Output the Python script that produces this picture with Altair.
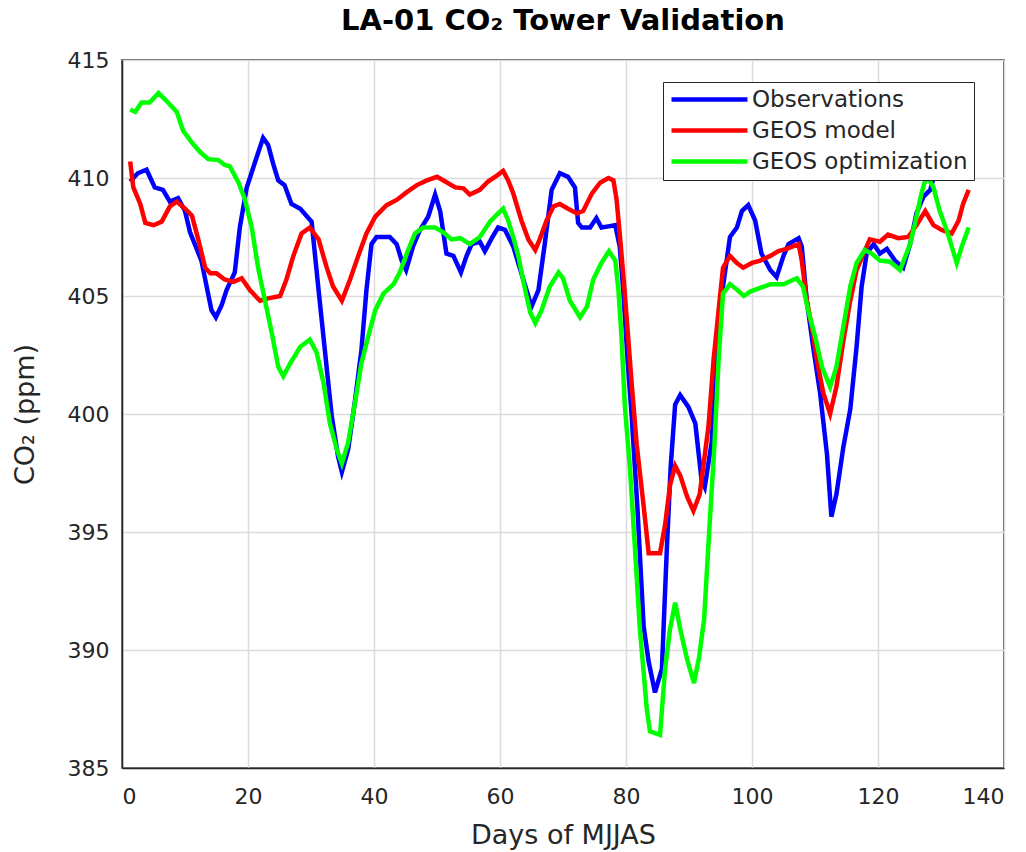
import altair as alt
import pandas as pd

obs_day = [1.3, 2.5, 3.9, 5.2, 6.5, 7.6, 8.9, 10.0, 10.8, 12.6, 14.2, 14.9, 15.8, 16.6, 17.9, 18.7,
           19.8, 21.4, 22.4, 23.2, 24.0, 24.8, 25.8, 26.9, 28.3, 30.1, 31.2, 32.2, 33.3, 34.3, 34.9,
           35.9, 37.0, 38.0, 38.8, 39.6, 40.4, 42.5, 43.6, 44.4, 45.1, 46.2, 47.3, 48.6, 49.7, 50.5,
           51.5, 52.6, 53.8, 54.7, 55.5, 56.8, 57.6, 58.7, 59.7, 60.8, 62.1, 63.7, 65.0, 66.1, 67.1,
           68.2, 69.5, 70.8, 71.9, 72.4, 73.0, 74.3, 75.3, 76.1, 77.2, 78.3, 79.0, 79.6, 80.2, 80.9,
           81.8, 82.8, 83.6, 84.6, 85.7, 86.5, 87.1, 87.8, 88.6, 89.9, 91.0, 92.0, 92.5, 93.6, 94.4,
           95.4, 96.5, 97.6, 98.4, 99.4, 100.5, 101.5, 102.9, 103.9, 105.0, 105.8, 107.4, 107.9,
           108.7, 109.7, 110.8, 111.9, 112.6, 113.4, 114.5, 115.6, 116.6, 117.4, 118.2, 119.3, 120.3,
           121.4, 122.7, 124.0, 125.1, 126.1, 127.2, 128.3, 129.0]
obs_val = [409.85, 410.2, 410.35, 409.6, 409.5, 409.0, 409.15, 408.6, 407.7, 406.5, 404.4, 404.1,
           404.6, 405.25, 406.0, 407.9, 409.6, 410.9, 411.7, 411.4, 410.6, 409.9, 409.7, 408.9, 408.7,
           408.15, 405.25, 402.7, 399.9, 398.2, 397.55, 398.5, 400.6, 402.7, 405.25, 407.2, 407.5,
           407.5, 407.2, 406.5, 406.1, 407.1, 407.8, 408.36, 409.3, 408.6, 406.8, 406.7, 406.0, 406.7,
           407.2, 407.3, 406.9, 407.45, 407.9, 407.8, 407.1, 405.7, 404.55, 405.25, 407.2, 409.5,
           410.2, 410.05, 409.6, 408.1, 407.9, 407.9, 408.3, 407.9, 407.95, 408.0, 407.1, 405.1,
           402.5, 399.9, 396.1, 391.0, 389.5, 388.2, 389.2, 394.4, 397.8, 400.4, 400.8, 400.3, 399.6,
           397.2, 396.9, 398.8, 402.3, 405.4, 407.5, 407.9, 408.6, 408.85, 408.2, 406.8, 406.1, 405.8,
           406.7, 407.2, 407.45, 407.1, 404.8, 402.85, 400.9, 398.3, 395.65, 396.6, 398.6, 400.2,
           402.85, 405.4, 406.8, 407.2, 406.8, 407.0, 406.5, 406.2, 407.2, 408.5, 409.2, 409.5, 410.2]

mod_day = [1.3, 1.8, 2.9, 3.7, 5.0, 6.3, 7.6, 8.7, 10.0, 11.1, 12.1, 13.2, 14.0, 15.0, 16.3, 17.7,
           19.0, 20.3, 21.9, 23.2, 25.1, 26.1, 27.2, 28.5, 29.8, 31.2, 32.5, 33.5, 34.9, 36.2, 37.5,
           38.8, 40.2, 42.0, 43.6, 45.2, 46.8, 48.4, 50.0, 51.3, 52.9, 54.2, 55.2, 56.8, 58.1, 59.5,
           60.5, 61.3, 62.1, 63.4, 64.5, 65.6, 66.3, 67.4, 68.5, 69.5, 70.8, 72.2, 73.2, 74.6, 75.9,
           77.2, 78.0, 78.5, 79.0, 79.6, 80.1, 80.9, 81.7, 82.8, 83.6, 85.4, 86.2, 87.0, 87.8, 88.6,
           89.7, 90.7, 91.7, 93.1, 93.9, 94.7, 95.4, 96.5, 97.6, 98.6, 100.0, 101.3, 102.9, 104.2,
           105.5, 107.4, 107.9, 108.7, 109.5, 110.3, 111.3, 112.4, 113.4, 114.5, 115.6, 116.6, 117.7,
           118.7, 120.3, 121.6, 123.2, 124.8, 126.1, 127.5, 128.8, 130.1, 131.7, 132.8, 133.5, 134.4]
mod_val = [410.7, 409.6, 408.9, 408.1, 408.0, 408.15, 408.8, 409.0, 408.7, 408.4, 407.4, 406.2,
           405.96, 405.96, 405.7, 405.6, 405.75, 405.25, 404.8, 404.9, 405.0, 405.7, 406.7, 407.65,
           407.9, 407.4, 406.2, 405.4, 404.8, 405.7, 406.7, 407.65, 408.36, 408.85, 409.07, 409.4,
           409.7, 409.9, 410.05, 409.85, 409.6, 409.56, 409.3, 409.5, 409.85, 410.1, 410.3, 409.9,
           409.35, 408.2, 407.4, 406.95, 407.4, 408.2, 408.8, 408.9, 408.7, 408.5, 408.6, 409.35,
           409.8, 410.0, 409.9, 409.1, 407.65, 405.8, 404.1, 401.3, 398.7, 396.1, 394.1, 394.1, 395.3,
           397.0, 397.8, 397.4, 396.5, 395.9, 396.6, 399.5, 402.3, 404.4, 406.2, 406.7, 406.4, 406.2,
           406.4, 406.5, 406.7, 406.9, 407.0, 407.2, 406.5, 404.8, 403.7, 402.3, 400.9, 400.0, 401.15,
           403.1, 404.8, 406.1, 406.8, 407.4, 407.3, 407.6, 407.45, 407.5, 408.0, 408.6, 408.0, 407.8,
           407.65, 408.2, 408.9, 409.5]

opt_day = [1.3, 2.1, 3.1, 4.4, 5.8, 7.3, 8.7, 9.7, 11.1, 12.4, 13.7, 15.3, 16.3, 17.1, 18.5, 19.5,
           20.6, 21.6, 22.7, 23.8, 24.8, 25.6, 26.7, 28.3, 29.8, 30.9, 32.0, 33.0, 34.1, 34.9, 35.9,
           37.0, 38.0, 39.1, 40.2, 41.5, 43.1, 44.1, 45.2, 46.5, 47.8, 49.7, 51.0, 52.3, 53.7, 55.2,
           56.8, 58.4, 59.7, 60.5, 61.3, 62.1, 62.9, 64.0, 64.8, 65.6, 66.6, 67.9, 69.3, 70.0, 71.1,
           72.7, 73.8, 74.8, 76.1, 77.3, 78.3, 78.8, 79.3, 79.8, 80.6, 81.4, 82.2, 83.3, 83.8, 85.4,
           86.2, 87.0, 87.8, 88.6, 89.7, 90.8, 91.6, 92.4, 93.2, 94.0, 94.7, 95.4, 96.5, 97.7, 98.7,
           99.8, 101.4, 102.9, 105.0, 107.1, 108.1, 108.9, 110.0, 111.1, 112.4, 113.4, 114.5, 115.6,
           116.6, 117.9, 119.0, 120.3, 121.9, 123.5, 125.1, 125.9, 126.9, 127.7, 128.8, 129.8, 130.9,
           131.7, 132.5, 133.3, 134.4]
opt_val = [412.9, 412.8, 413.2, 413.2, 413.6, 413.2, 412.8, 412.0, 411.5, 411.1, 410.8, 410.76,
           410.55, 410.5, 409.8, 409.1, 407.9, 406.2, 404.8, 403.4, 402.0, 401.6, 402.15, 402.85,
           403.15, 402.6, 401.3, 399.6, 398.5, 397.9, 398.8, 400.5, 402.15, 403.3, 404.4, 405.1,
           405.5, 406.0, 406.8, 407.65, 407.9, 407.9, 407.7, 407.4, 407.45, 407.2, 407.5, 408.15,
           408.5, 408.7, 408.2, 407.5, 406.7, 405.25, 404.3, 403.85, 404.4, 405.4, 406.0, 405.75,
           404.8, 404.1, 404.55, 405.7, 406.4, 406.9, 406.5, 405.25, 403.2, 400.4, 397.8, 394.4,
           390.9, 387.5, 386.55, 386.4, 389.2, 390.9, 392.0, 390.9, 389.6, 388.6, 389.7, 391.3, 395.0,
           398.5, 402.3, 405.1, 405.5, 405.25, 405.0, 405.2, 405.35, 405.5, 405.5, 405.75, 405.4,
           404.4, 403.3, 402.0, 401.15, 402.0, 403.7, 405.4, 406.4, 406.95, 406.8, 406.5, 406.45,
           406.1, 407.2, 408.1, 409.35, 410.1, 409.6, 408.6, 407.8, 407.1, 406.4, 407.1, 407.9]

series = ["Observations", "GEOS model", "GEOS optimization"]
colors = ["#0000ff", "#ff0000", "#00ff00"]
x_ticks = [0, 20, 40, 60, 80, 100, 120, 140]
y_ticks = [385, 390, 395, 400, 405, 410, 415]

frames = []
for name, d, v in zip(series, [obs_day, mod_day, opt_day], [obs_val, mod_val, opt_val]):
    frames.append(pd.DataFrame({"day": d, "co2": v, "series": name}))
df = pd.concat(frames, ignore_index=True)

FONT = "DejaVu Sans"
TXT = "#262626"

x_enc = alt.X("day:Q", scale=alt.Scale(domain=[0, 140], nice=False, zero=False),
              axis=alt.Axis(values=x_ticks, title="Days of MJJAS", grid=True,
                            ticks=False, labelPadding=18, labelFontSize=22,
                            titleFontSize=27, titleFontWeight="normal",
                            titleBaseline="alphabetic", titleY=75,
                            labelFont=FONT, titleFont=FONT,
                            labelColor=TXT, titleColor=TXT,
                            domainColor=TXT, domainWidth=1.5,
                            gridColor="#dcdcdc", gridWidth=1.5))
y_enc = alt.Y("co2:Q", scale=alt.Scale(domain=[385, 415], nice=False, zero=False),
              axis=alt.Axis(values=y_ticks, title="CO₂ (ppm)", grid=True,
                            ticks=False, labelPadding=13, labelFontSize=22,
                            titleFontSize=27, titleFontWeight="normal",
                            titleAngle=270, titleBaseline="alphabetic",
                            titleX=-89, titleY=354, titleAlign="center",
                            labelFont=FONT, titleFont=FONT,
                            labelColor=TXT, titleColor=TXT,
                            domainColor=TXT, domainWidth=1.5,
                            gridColor="#dcdcdc", gridWidth=1.5))
color_enc = alt.Color("series:N",
                      scale=alt.Scale(domain=series, range=colors),
                      legend=alt.Legend(title=None, orient="none", legendX=541, legendY=22,
                                        symbolType="M-1,0H7.44", symbolSize=324,
                                        symbolStrokeWidth=4.5, labelOffset=60,
                                        labelFontSize=23, labelFont=FONT, labelColor=TXT,
                                        rowPadding=7, padding=6,
                                        fillColor="white", strokeColor=TXT,
                                        labelLimit=400))

layers = []
for name in series:
    layers.append(
        alt.Chart(df).transform_filter(alt.datum.series == name)
        .mark_line(strokeWidth=4.5, clip=True)
        .encode(x=x_enc, y=y_enc, color=color_enc)
    )

chart = alt.layer(*layers).properties(
    width=882, height=708,
    autosize=alt.AutoSizeParams(type="none"),
    padding={"left": 122, "top": 60, "right": 22, "bottom": 84},
    title=alt.TitleParams("LA-01 CO₂ Tower Validation", fontSize=29, fontWeight="bold",
                          font=FONT, baseline="alphabetic", offset=2, dy=12, anchor="middle",
                          color="#000000"),
    background="white",
).configure_view(stroke=TXT, strokeWidth=1.5)

chart.save("out.html", embed_options={"renderer": "svg", "actions": False})
